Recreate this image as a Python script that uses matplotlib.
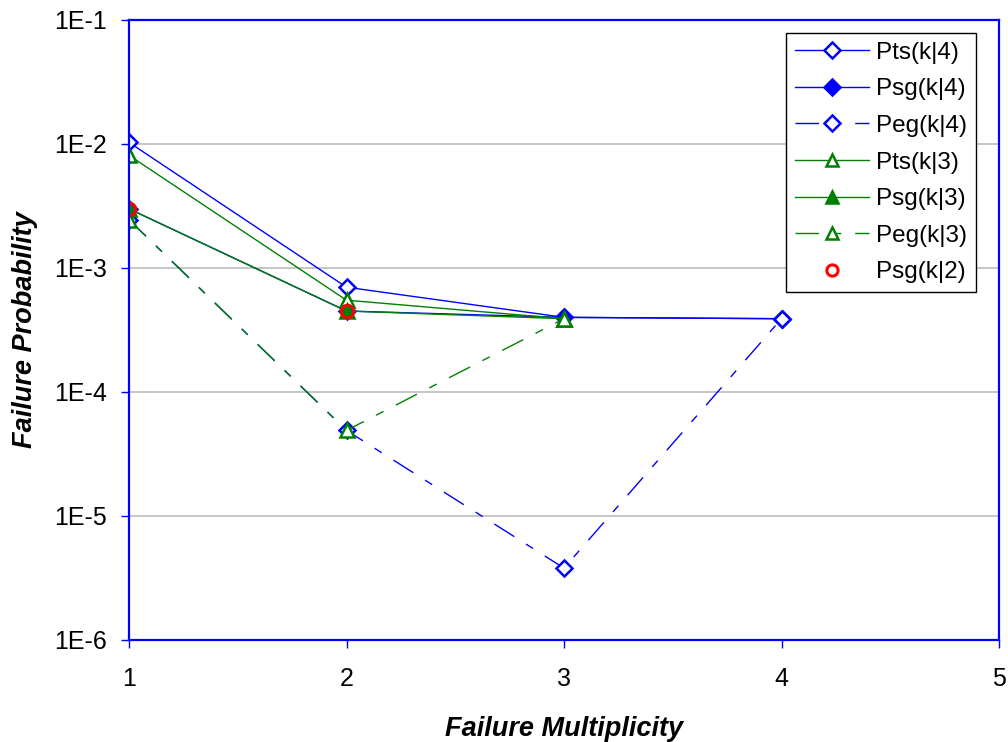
import matplotlib
matplotlib.use("Agg")
import matplotlib.pyplot as plt

plt.rcParams['font.family'] = ['Liberation Sans', 'DejaVu Sans']

k = [1, 2, 3, 4]
pts4 = [1.03e-2, 7.0e-4, 4.0e-4, 3.9e-4]
psg4 = [3.0e-3, 4.5e-4, 4.0e-4, 3.9e-4]
peg4 = [2.45e-3, 4.9e-5, 3.8e-6, 3.9e-4]
k3 = [1, 2, 3]
pts3 = [8.1e-3, 5.5e-4, 3.9e-4]
psg3 = [3.0e-3, 4.5e-4, 3.9e-4]
peg3 = [2.45e-3, 4.9e-5, 3.9e-4]
k2 = [1, 2]
psg2 = [3.0e-3, 4.5e-4]

yticks = [1e-6, 1e-5, 1e-4, 1e-3, 1e-2, 1e-1]
ytick_labels = ['1E-6', '1E-5', '1E-4', '1E-3', '1E-2', '1E-1']
xticks = [1, 2, 3, 4, 5]

BLUE = '#0000FF'
GREEN = '#008000'
dash = (0, (17, 10, 6, 10))

fig = plt.figure(figsize=(10.08, 7.42), dpi=100)
ax = fig.add_axes([129/1008, 1 - 640/742, (999-129)/1008, (640-20)/742])

msd = 8.5
mst = 9.5
ax.plot(k, pts4, color=BLUE, lw=1, marker='D', ms=msd, mfc='white', mec=BLUE, mew=1.8, label='Pts(k|4)')
ax.plot(k, psg4, color=BLUE, lw=1, marker='D', ms=msd, mfc=BLUE, mec=BLUE, mew=1.8, label='Psg(k|4)')
ax.plot(k, peg4, color=BLUE, lw=1, ls=dash, marker='D', ms=msd, mfc='white', mec=BLUE, mew=1.8, label='Peg(k|4)')
ax.plot(k3, pts3, color=GREEN, lw=1, marker='^', ms=mst, mfc='white', mec=GREEN, mew=1.8, label='Pts(k|3)')
ax.plot(k3, psg3, color=GREEN, lw=1, marker='^', ms=mst, mfc=GREEN, mec=GREEN, mew=1.8, label='Psg(k|3)')
ax.plot(k3, peg3, color=GREEN, lw=1, ls=dash, marker='^', ms=mst, mfc='white', mec=GREEN, mew=1.8, label='Peg(k|3)')
ax.plot(k2, psg2, ls='none', marker='o', ms=9, mfc='none', mec='red', mew=2.2, label='Psg(k|2)')

ax.set_yscale('log')
ax.set_ylim(1e-6, 1e-1)
ax.set_xlim(1, 5)
ax.set_yticks(yticks)
ax.set_yticklabels(ytick_labels)
ax.set_xticks(xticks)
ax.set_xticklabels([str(x) for x in xticks])
ax.minorticks_off()
ax.yaxis.grid(True, color='#C0C0C0', lw=1.3)
ax.set_axisbelow(True)
for s in ax.spines.values():
    s.set_color(BLUE)
    s.set_linewidth(1.6)
ax.tick_params(axis='both', colors=BLUE, labelcolor='black', labelsize=18, length=6, width=1, direction='out')
ax.tick_params(axis='y', pad=10)
ax.tick_params(axis='x', pad=13.5)

ax.set_xlabel('Failure Multiplicity', fontsize=19.5, fontweight='bold', fontstyle='italic')
ax.set_ylabel('Failure Probability', fontsize=19.5, fontweight='bold', fontstyle='italic')
ax.xaxis.set_label_coords(0.5, -(716 - 640) / 620)
ax.yaxis.set_label_coords(-(129 - 38) / 870, 0.5)

leg = ax.legend(loc='upper right', bbox_to_anchor=(976/1008, 1 - 33/742), bbox_transform=fig.transFigure,
                fontsize=17.5, frameon=True, fancybox=False, edgecolor='black', framealpha=1,
                handlelength=3.05, labelspacing=0.6, borderpad=0.36, handletextpad=0.3,
                markerscale=0.9, borderaxespad=0)
leg.get_frame().set_linewidth(1)

fig.savefig('out.png', dpi=100)
